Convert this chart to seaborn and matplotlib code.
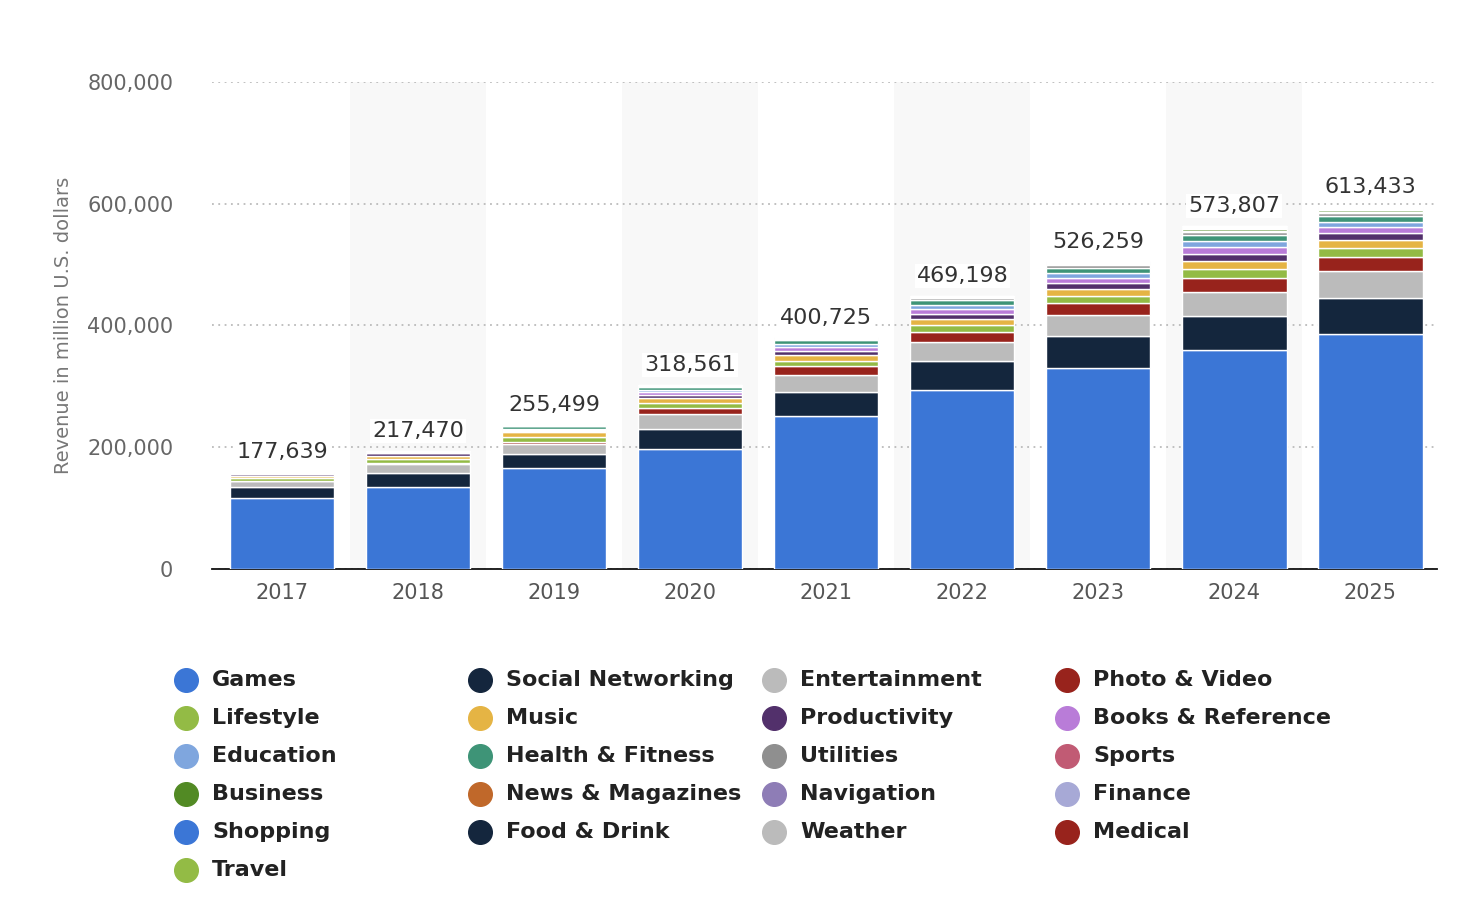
import matplotlib
matplotlib.use("Agg")
import matplotlib.pyplot as plt
import seaborn as sns
import numpy as np
from matplotlib.lines import Line2D

years = ["2017","2018","2019","2020","2021","2022","2023","2024","2025"]
totals = [177639, 217470, 255499, 318561, 400725, 469198, 526259, 573807, 613433]
categories = ["Games","Social Networking","Entertainment","Photo & Video","Lifestyle","Music",
              "Productivity","Books & Reference","Education","Health & Fitness","Utilities","Sports",
              "Business","News & Magazines","Navigation","Finance","Shopping","Food & Drink",
              "Weather","Medical","Travel"]
colors = ["#3b76d6","#14263d","#bbbbbb","#98231c","#93bb45","#e5b444","#52306b","#b97cd8",
          "#7fa6de","#3e9477","#8f8f8f","#c15b74","#528a24","#c0682a","#8e7db6","#a7a9d6",
          "#3b76d6","#14263d","#bbbbbb","#98231c","#93bb45"]
# values in thousand million U.S. dollars
games         = [117,135,166,197,251,294,330,360,386]
social        = [17,22,22,32,40,47,52,55,59]
entertainment = [10,15,17,25,28,32,35,40,44]
photo_video   = [1,1,4,10,14,16,19,23,23]
lifestyle     = [4,7,8,8,9,11,12,14,15]
music         = [4,5,7,8,9,10,11,13,13]
productivity  = [2,5,2,6,7,9,10,13,11]
books         = [1,1,2,4,7,8,9,10,11]
education     = [1,1,2,4,5,7,8,10,8]
health        = [1,1,4,5,6,8,9,10,10]
utilities     = [1,1,1,2,2,3,4,6,5]
sports        = [0,0,1,1,1,1,1,1,1]
business      = [0,0,0,0,1,1,2,4,3]
news          = [0,0,0,0,0,1,1,1,1]
navigation    = [0,0,0,0,0,1,1,1,1]
finance       = [0,0,0,0,0,0,1,1,1]
shopping      = [0,0,0,0,0,0,0,1,1]
food          = [0,0,0,0,0,0,0,0,0.5]
weather       = [0,0,0,0,0,0,0,0,0.5]
medical       = [0,0,0,0,0,0,0,0,0.5]
travel        = [0,0,0,0,0,0,0,0,0.5]
series = [games,social,entertainment,photo_video,lifestyle,music,productivity,books,education,
          health,utilities,sports,business,news,navigation,finance,shopping,food,weather,medical,travel]

sns.set_theme(style="white")
plt.rcParams['font.family'] = ['DejaVu Sans']
fig = plt.figure(figsize=(14.74, 9.1), dpi=100)
ax = fig.add_axes([0.144, 0.375, 0.831, 0.535])

for i in range(1, len(years), 2):
    ax.axvspan(i-0.5, i+0.5, color="#f8f8f8", zorder=0, lw=0)

bottom = np.zeros(len(years))
for cat, col, vals in zip(categories, colors, series):
    v = np.array(vals, dtype=float) * 1000
    sns.barplot(x=years, y=v, bottom=bottom, color=col, width=0.765, ax=ax,
                edgecolor="white", linewidth=1.0, zorder=3, saturation=1)
    bottom += v

for i, t in enumerate(totals):
    ax.text(i, bottom[i] + 16000, f"{t:,}", ha="center", va="bottom", fontsize=16,
            color="#333333", zorder=4,
            bbox=dict(facecolor="white", edgecolor="none", pad=1.5))

ax.set_ylim(0, 800000)
ax.set_xlim(-0.515, 8.49)
ax.set_yticks([0,200000,400000,600000,800000])
ax.set_yticklabels(["0","200,000","400,000","600,000","800,000"], fontsize=15, color="#666666")
ax.tick_params(axis="x", labelsize=15, colors="#555555", pad=10, length=0)
ax.tick_params(axis="y", pad=28, length=0)
ax.yaxis.grid(True, linestyle=(0,(1,2.5)), color="#bbbbbb", lw=1.3, zorder=1)
ax.set_axisbelow(True)
for s in ["top","right","left"]:
    ax.spines[s].set_visible(False)
ax.spines["bottom"].set_color("#111111")
ax.spines["bottom"].set_linewidth(1.3)
ax.set_ylabel("Revenue in million U.S. dollars", fontsize=14, color="#777777", labelpad=10)
ax.set_xlabel("")

# legend, row-major in 4 columns
W, H = 1474, 910
col_x = [186, 480, 774, 1067]
for k, (cat, col) in enumerate(zip(categories, colors)):
    r, c = divmod(k, 4)
    y = 680 + 38 * r
    fig.add_artist(Line2D([col_x[c] / W], [1 - y / H], marker="o", ls="", markersize=17,
                          markerfacecolor=col, markeredgecolor=col, transform=fig.transFigure))
    fig.text((col_x[c] + 26) / W, 1 - y / H, cat, fontsize=16, weight="semibold",
             color="#222222", va="center", ha="left")

fig.savefig("out.png", dpi=100)
